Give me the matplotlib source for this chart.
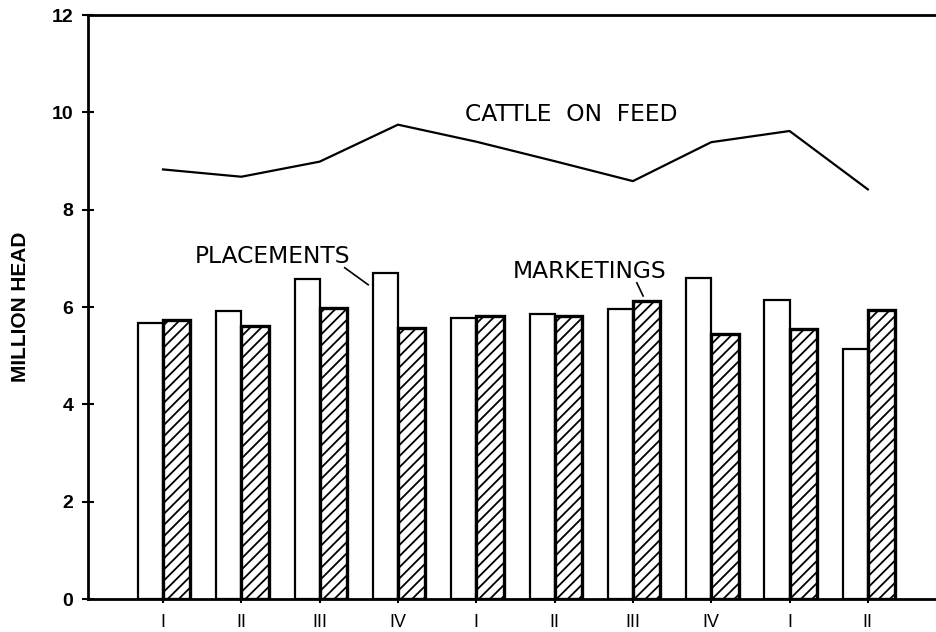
import numpy as np
import matplotlib
matplotlib.use('Agg')
import matplotlib.pyplot as plt

quarters = ['I', 'II', 'III', 'IV', 'I', 'II', 'III', 'IV', 'I', 'II']
placements = [5.67, 5.93, 6.58, 6.70, 5.78, 5.86, 5.97, 6.60, 6.15, 5.14]
marketings = [5.74, 5.62, 5.99, 5.58, 5.81, 5.82, 6.13, 5.45, 5.55, 5.95]
cattle_on_feed = [8.83, 8.68, 8.99, 9.75, 9.40, 9.00, 8.59, 9.39, 9.62, 8.42]

plt.rcParams['font.family'] = ['Liberation Sans', 'DejaVu Sans']
plt.rcParams['hatch.linewidth'] = 1.3

fig = plt.figure(figsize=(9.36, 6.32), dpi=100)
ax = fig.add_axes([0.094, 0.052, 0.906, 0.924])

x = np.arange(len(quarters))

# placements: plain white bars, marketings: hatched
ax.bar(x, placements, width=-0.32, align='edge', color='white',
       edgecolor='black', linewidth=1.6)
ax.bar(x, marketings, width=0.35, align='edge', color='white',
       edgecolor='black', linewidth=2.4, hatch='///')
ax.plot(x, cattle_on_feed, color='black', linewidth=1.6)

lbl = dict(fontsize=16.8, va='center', ha='left', family='DejaVu Sans')
ax.text(3.86, 9.96, 'CATTLE  ON  FEED', **lbl)
ax.text(0.41, 7.05, 'PLACEMENTS', **lbl)
ax.plot([2.32, 2.62], [6.81, 6.46], color='black', linewidth=1.2)
ax.text(4.46, 6.74, 'MARKETINGS', **lbl)
ax.plot([6.05, 6.13], [6.50, 6.23], color='black', linewidth=1.2)

ax.set_xlim(-0.958, 9.87)
ax.set_ylim(0, 12)
ax.set_xticks(x)
ax.set_xticklabels(quarters, fontsize=13)
ax.set_yticks(np.arange(0, 13, 2))
ax.set_yticklabels([str(v) for v in range(0, 13, 2)], fontsize=14,
                   fontweight='bold')
ax.tick_params(axis='y', direction='inout', length=9, width=1.5, pad=6)
ax.tick_params(axis='x', direction='inout', length=6, width=1.5, pad=8)

ax.set_ylabel('MILLION HEAD', fontsize=15, fontweight='bold',
              family=['Liberation Sans Narrow', 'Liberation Sans'])
ax.yaxis.set_label_coords(-0.068, 0.5)

for side in ['left', 'bottom', 'top']:
    ax.spines[side].set_linewidth(2)
ax.spines['right'].set_visible(False)

fig.savefig('out.png', dpi=100)
